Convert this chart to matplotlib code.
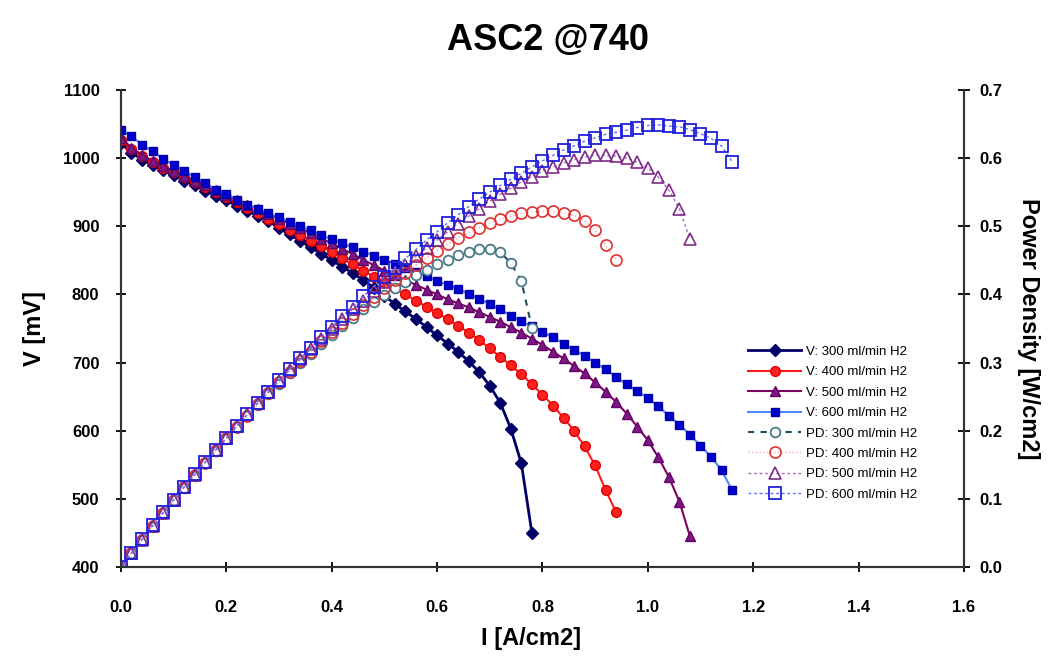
import matplotlib
matplotlib.use("Agg")
import matplotlib.pyplot as plt

plt.rcParams["font.family"] = ["Liberation Sans", "DejaVu Sans"]
plt.rcParams["font.weight"] = "bold"

# -------------------------------------------------------
# Data (I in A/cm2, V in mV, PD in W/cm2)
# -------------------------------------------------------
current = [0.00, 0.02, 0.04, 0.06, 0.08, 0.10, 0.12, 0.14, 0.16, 0.18,
           0.20, 0.22, 0.24, 0.26, 0.28, 0.30, 0.32, 0.34, 0.36, 0.38,
           0.40, 0.42, 0.44, 0.46, 0.48, 0.50, 0.52, 0.54, 0.56, 0.58,
           0.60, 0.62, 0.64, 0.66, 0.68, 0.70, 0.72, 0.74, 0.76, 0.78,
           0.80, 0.82, 0.84, 0.86, 0.88, 0.90, 0.92, 0.94, 0.96, 0.98,
           1.00, 1.02, 1.04, 1.06, 1.08, 1.10, 1.12, 1.14, 1.16]

v_300 = [1022, 1008, 998, 990, 982, 975, 967, 960, 952, 945,
         938, 930, 923, 915, 908, 897, 888, 879, 869, 860,
         850, 841, 831, 821, 810, 798, 786, 775, 764, 752,
         740, 728, 716, 702, 686, 666, 641, 603, 552, 450]

v_400 = [1027, 1013, 1003, 994, 986, 979, 972, 965, 958, 951,
         943, 935, 927, 919, 911, 903, 895, 887, 879, 871,
         862, 853, 844, 835, 826, 818, 809, 800, 791, 782,
         773, 764, 754, 744, 733, 721, 708, 696, 683, 668,
         653, 637, 619, 600, 577, 549, 513, 480]

v_500 = [1030, 1015, 1005, 996, 988, 981, 974, 967, 960, 953,
         946, 939, 932, 925, 918, 911, 904, 897, 890, 882,
         875, 867, 859, 851, 843, 835, 828, 821, 814, 807,
         800, 793, 787, 781, 774, 767, 760, 752, 744, 735,
         726, 716, 706, 695, 684, 671, 657, 642, 625, 606,
         586, 561, 532, 496, 445]

v_600 = [1042, 1032, 1020, 1010, 999, 990, 981, 973, 963, 954,
         947, 939, 932, 926, 919, 913, 907, 900, 894, 887,
         881, 875, 869, 863, 857, 851, 845, 839, 833, 827,
         820, 814, 808, 801, 794, 786, 778, 769, 761, 753,
         745, 737, 728, 719, 710, 700, 690, 679, 668, 658,
         648, 636, 622, 609, 594, 578, 562, 542, 513]

pd_300 = [0.000, 0.020, 0.040, 0.059, 0.079, 0.098, 0.116, 0.134, 0.152, 0.170,
          0.188, 0.205, 0.222, 0.238, 0.254, 0.269, 0.284, 0.299, 0.313, 0.327,
          0.340, 0.353, 0.366, 0.378, 0.389, 0.399, 0.409, 0.419, 0.428, 0.436,
          0.444, 0.451, 0.458, 0.463, 0.466, 0.466, 0.462, 0.446, 0.420, 0.351]

pd_400 = [0.000, 0.020, 0.040, 0.060, 0.079, 0.098, 0.117, 0.135, 0.153, 0.171,
          0.189, 0.206, 0.222, 0.239, 0.255, 0.271, 0.286, 0.302, 0.316, 0.331,
          0.345, 0.358, 0.371, 0.384, 0.396, 0.409, 0.421, 0.432, 0.443, 0.454,
          0.464, 0.474, 0.483, 0.491, 0.498, 0.505, 0.510, 0.515, 0.519, 0.521,
          0.522, 0.522, 0.520, 0.516, 0.508, 0.494, 0.472, 0.451]

pd_500 = [0.000, 0.020, 0.040, 0.060, 0.079, 0.098, 0.117, 0.135, 0.154, 0.172,
          0.189, 0.207, 0.224, 0.241, 0.257, 0.273, 0.289, 0.305, 0.320, 0.335,
          0.350, 0.364, 0.378, 0.391, 0.405, 0.418, 0.431, 0.443, 0.456, 0.468,
          0.480, 0.492, 0.504, 0.515, 0.526, 0.537, 0.547, 0.556, 0.565, 0.573,
          0.581, 0.587, 0.593, 0.598, 0.602, 0.604, 0.604, 0.603, 0.600, 0.594,
          0.586, 0.572, 0.553, 0.526, 0.481]

pd_600 = [0.000, 0.021, 0.041, 0.061, 0.080, 0.099, 0.118, 0.136, 0.154, 0.172,
          0.189, 0.207, 0.224, 0.241, 0.257, 0.274, 0.290, 0.306, 0.322, 0.337,
          0.352, 0.368, 0.382, 0.397, 0.411, 0.426, 0.439, 0.453, 0.466, 0.480,
          0.492, 0.505, 0.517, 0.529, 0.540, 0.550, 0.560, 0.569, 0.578, 0.587,
          0.596, 0.604, 0.612, 0.618, 0.625, 0.630, 0.635, 0.638, 0.641, 0.645,
          0.648, 0.649, 0.647, 0.646, 0.642, 0.636, 0.629, 0.618, 0.595]

labels_v = ["V: 300 ml/min H2", "V: 400 ml/min H2", "V: 500 ml/min H2", "V: 600 ml/min H2"]
labels_pd = ["PD: 300 ml/min H2", "PD: 400 ml/min H2", "PD: 500 ml/min H2", "PD: 600 ml/min H2"]

# -------------------------------------------------------
# Figure
# -------------------------------------------------------
fig = plt.figure(figsize=(10.5, 6.62), dpi=100)
ax = fig.add_axes([0.1152, 0.1435, 0.8028, 0.7205])
ax2 = ax.twinx()

def xs(series):
    return current[:len(series)]

h = []
h += ax.plot(xs(v_300), v_300, color="#000066", lw=2, marker="D", ms=6,
             mfc="#000066", mec="#000066", label=labels_v[0])
h += ax.plot(xs(v_400), v_400, color="#ff1a1a", lw=1.5, marker="o", ms=7,
             mfc="#ff2020", mec="#e00000", label=labels_v[1])
h += ax.plot(xs(v_500), v_500, color="#800060", lw=1.5, marker="^", ms=7,
             mfc="#7a1a80", mec="#66006a", label=labels_v[2])
h += ax.plot(xs(v_600), v_600, color="#4d88ff", lw=1.5, marker="s", ms=5.5,
             mfc="#0000cc", mec="#0000aa", label=labels_v[3])

h += ax2.plot(xs(pd_300), pd_300, color="#1f4f5f", lw=1.5, ls=(0, (3, 3)),
              marker="o", ms=7, mfc="white", mec="#4a7a88", mew=1.3, label=labels_pd[0])
h += ax2.plot(xs(pd_400), pd_400, color="#ffb0b0", lw=1.0, ls=":",
              marker="o", ms=8, mfc="none", mec="#e03030", mew=1.2, label=labels_pd[1])
h += ax2.plot(xs(pd_500), pd_500, color="#a070c0", lw=1.0, ls=(0, (2, 2)),
              marker="^", ms=9, mfc="none", mec="#802a8a", mew=1.2, label=labels_pd[2])
h += ax2.plot(xs(pd_600), pd_600, color="#6070ff", lw=1.0, ls=(0, (2, 2)),
              marker="s", ms=8, mfc="none", mec="#2020dd", mew=1.3, label=labels_pd[3])

ax.set_xlim(0, 1.6)
ax.set_ylim(400, 1100)
ax2.set_ylim(0, 0.7)
ax.set_xticks([0.0, 0.2, 0.4, 0.6, 0.8, 1.0, 1.2, 1.4, 1.6])
ax.set_xticklabels(["0.0", "0.2", "0.4", "0.6", "0.8", "1.0", "1.2", "1.4", "1.6"])
ax.set_yticks(range(400, 1101, 100))
ax2.set_yticks([0.0, 0.1, 0.2, 0.3, 0.4, 0.5, 0.6, 0.7])
ax2.set_yticklabels(["0.0", "0.1", "0.2", "0.3", "0.4", "0.5", "0.6", "0.7"])

for a in (ax, ax2):
    a.spines["top"].set_visible(False)
    for s in ("left", "right", "bottom"):
        a.spines[s].set_linewidth(1.5)
        a.spines[s].set_color("#333333")

ax.tick_params(axis="x", direction="inout", length=7, width=1.3, labelsize=12, pad=20)
ax.tick_params(axis="y", direction="inout", length=7, width=1.3, labelsize=12, pad=12)
ax2.tick_params(axis="y", direction="inout", length=9, width=1.3, labelsize=12, pad=7)
for lab in ax.get_xticklabels() + ax.get_yticklabels() + ax2.get_yticklabels():
    lab.set_fontweight("bold")

ax.set_xlabel("I [A/cm2]", fontsize=17, fontweight="bold", labelpad=10)
ax.xaxis.set_label_coords(0.487, -0.125)
ax.set_ylabel("V [mV]", fontsize=17, fontweight="bold", labelpad=12)
ax2.set_ylabel("Power Density [W/cm2]", fontsize=17, fontweight="bold",
               rotation=270, labelpad=27)
fig.suptitle("ASC2 @740", fontsize=26, fontweight="bold", x=0.522, y=0.965)

leg = ax2.legend(handles=h, loc="upper left", bbox_to_anchor=(0.738, 0.475),
                 frameon=False, fontsize=9.5, labelspacing=0.62,
                 handlelength=4.0, handletextpad=0.4, borderaxespad=0)
for t in leg.get_texts():
    t.set_fontweight("normal")

fig.savefig("out.png", dpi=100)
